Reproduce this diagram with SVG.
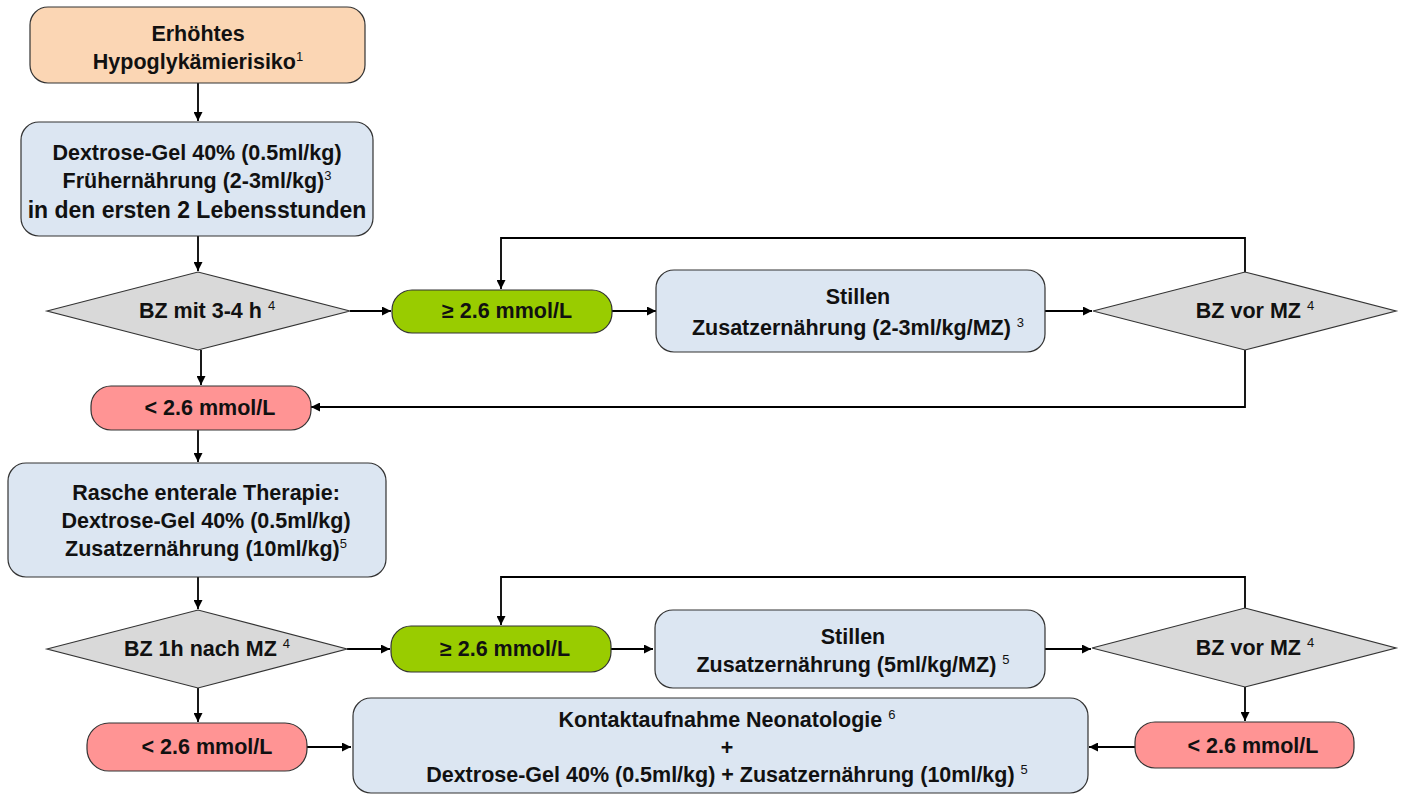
<svg xmlns="http://www.w3.org/2000/svg" width="1405" height="796" viewBox="0 0 1405 796">
<defs>
<marker id="ah" viewBox="0 0 10 10" refX="10" refY="5" markerWidth="9" markerHeight="9" markerUnits="userSpaceOnUse" orient="auto">
<path d="M0,0 L10,5 L0,10 z" fill="#000"/>
</marker>
<style>
.box{stroke:#333;stroke-width:1.2}
.peach{fill:#FBD6B4}
.blue{fill:#DCE6F2}
.green{fill:#99CC00}
.red{fill:#FF9494}
.gray{fill:#D9D9D9}
text{font-family:"Liberation Sans",Arial,sans-serif;font-size:21.5px;font-weight:bold;fill:#111;text-anchor:middle;dominant-baseline:central}
.sup{font-size:13px;font-weight:normal}
.c{fill:none;stroke:#000;stroke-width:1.8}
</style>
</defs>
<rect width="1405" height="796" fill="#fff"/>
<g id="connectors">
<path class="c" d="M198,83 V121" marker-end="url(#ah)"/>
<path class="c" d="M198,236 V271" marker-end="url(#ah)"/>
<path class="c" d="M350,311 H391" marker-end="url(#ah)"/>
<path class="c" d="M612,311 H656" marker-end="url(#ah)"/>
<path class="c" d="M1045,311 H1092" marker-end="url(#ah)"/>
<path class="c" d="M1245,272 V238 H501 V289" marker-end="url(#ah)"/>
<path class="c" d="M1245,350 V407 H311" marker-end="url(#ah)"/>
<path class="c" d="M201,350 V385" marker-end="url(#ah)"/>
<path class="c" d="M198,430 V462" marker-end="url(#ah)"/>
<path class="c" d="M198,577 V609" marker-end="url(#ah)"/>
<path class="c" d="M347,649 H390" marker-end="url(#ah)"/>
<path class="c" d="M611,649 H653" marker-end="url(#ah)"/>
<path class="c" d="M1045,649 H1091" marker-end="url(#ah)"/>
<path class="c" d="M1245,608 V577 H501 V625" marker-end="url(#ah)"/>
<path class="c" d="M198,688 V722" marker-end="url(#ah)"/>
<path class="c" d="M1245,687 V721" marker-end="url(#ah)"/>
<path class="c" d="M307,747 H351" marker-end="url(#ah)"/>
<path class="c" d="M1135,747 H1089" marker-end="url(#ah)"/>
</g>
<g id="n1"><rect class="box peach" x="30" y="7" width="335" height="76" rx="18"/>
<text x="198" y="34">Erhöhtes</text><text x="198" y="62">Hypoglykämierisiko<tspan class="sup" dy="-6">1</tspan></text></g>
<g id="n2"><rect class="box blue" x="21" y="122" width="352" height="114" rx="18"/>
<text x="197" y="153">Dextrose-Gel 40% (0.5ml/kg)</text><text x="197" y="181">Frühernährung (2-3ml/kg)<tspan class="sup" dy="-6">3</tspan></text><text x="197" y="210" style="font-size:23px">in den ersten 2 Lebensstunden</text></g>
<g id="d1"><polygon class="box gray" points="47,311 198,272 350,311 198,350"/>
<text x="207" y="311">BZ mit 3-4 h <tspan class="sup" dy="-6">4</tspan></text></g>
<g id="g1"><rect class="box green" x="392" y="290" width="220" height="43" rx="20"/>
<text x="507" y="311">≥ 2.6 mmol/L</text></g>
<g id="s1"><rect class="box blue" x="656" y="270" width="389" height="82" rx="18"/>
<text x="858" y="297">Stillen</text><text x="858" y="328">Zusatzernährung (2-3ml/kg/MZ) <tspan class="sup" dy="-6">3</tspan></text></g>
<g id="d2"><polygon class="box gray" points="1093,311 1245,272 1396,311 1245,350"/>
<text x="1255" y="311">BZ vor MZ <tspan class="sup" dy="-6">4</tspan></text></g>
<g id="r1"><rect class="box red" x="91" y="386" width="220" height="44" rx="20"/>
<text x="210" y="408">&lt; 2.6 mmol/L</text></g>
<g id="n3"><rect class="box blue" x="8" y="463" width="378" height="114" rx="18"/>
<text x="206" y="493">Rasche enterale Therapie:</text><text x="206" y="521">Dextrose-Gel 40% (0.5ml/kg)</text><text x="206" y="549">Zusatzernährung (10ml/kg)<tspan class="sup" dy="-6">5</tspan></text></g>
<g id="d3"><polygon class="box gray" points="47,649 198,610 347,649 198,688"/>
<text x="207" y="649">BZ 1h nach MZ <tspan class="sup" dy="-6">4</tspan></text></g>
<g id="g2"><rect class="box green" x="391" y="626" width="220" height="46" rx="20"/>
<text x="505" y="649">≥ 2.6 mmol/L</text></g>
<g id="s2"><rect class="box blue" x="655" y="610" width="390" height="78" rx="18"/>
<text x="853" y="637">Stillen</text><text x="853" y="665">Zusatzernährung (5ml/kg/MZ) <tspan class="sup" dy="-6">5</tspan></text></g>
<g id="d4"><polygon class="box gray" points="1092,648 1245,608 1396,648 1245,687"/>
<text x="1255" y="648">BZ vor MZ <tspan class="sup" dy="-6">4</tspan></text></g>
<g id="r2"><rect class="box red" x="87" y="723" width="220" height="48" rx="22"/>
<text x="207" y="747">&lt; 2.6 mmol/L</text></g>
<g id="n4"><rect class="box blue" x="353" y="698" width="735" height="95" rx="18"/>
<text x="727" y="720">Kontaktaufnahme Neonatologie <tspan class="sup" dy="-6">6</tspan></text><text x="727" y="748">+</text><text x="727" y="775">Dextrose-Gel 40% (0.5ml/kg) + Zusatzernährung (10ml/kg) <tspan class="sup" dy="-6">5</tspan></text></g>
<g id="r3"><rect class="box red" x="1135" y="722" width="219" height="46" rx="20"/>
<text x="1253" y="746">&lt; 2.6 mmol/L</text></g>
</svg>
